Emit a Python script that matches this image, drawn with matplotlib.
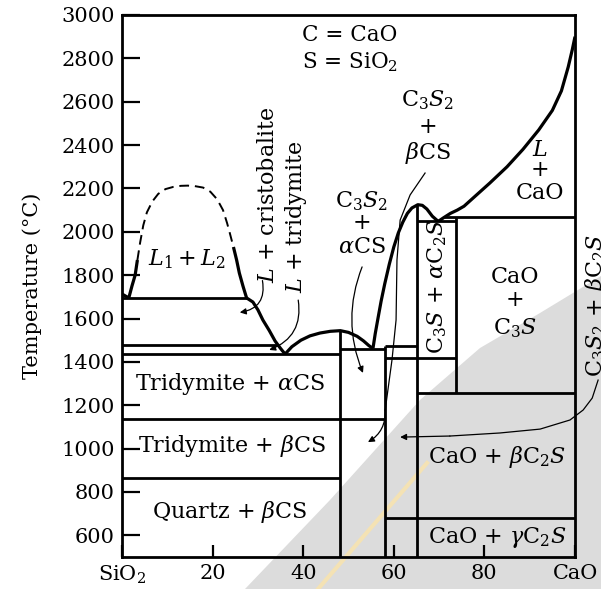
import matplotlib.pyplot as plt
from matplotlib.patches import Polygon
from matplotlib.lines import Line2D

plt.rcParams['font.family'] = ['DejaVu Serif']
plt.rcParams['mathtext.fontset'] = 'dejavuserif'

# compositions in wt% CaO, temperatures in deg C
xticks = [0, 20, 40, 60, 80, 100]
xticklabels = ['SiO$_2$', '20', '40', '60', '80', 'CaO']
yticks = list(range(600, 3001, 200))

# miscibility gap L1 + L2
dome_x = [1.5, 2.2, 2.9, 3.4, 4.0, 4.7, 5.5, 6.7, 8.0, 9.6, 11.3, 13.0, 14.5, 16.0,
          17.9, 19.5, 21.0, 22.3, 23.2, 23.8, 24.6, 25.3, 25.9, 26.7, 27.5]
dome_T = [1695, 1750, 1800, 1870, 1950, 2030, 2090, 2140, 2175, 2197, 2207, 2212, 2213, 2211,
          2204, 2185, 2150, 2100, 2040, 1994, 1930, 1870, 1810, 1750, 1695]

# liquidus branches
liq_sio2_x = [0, 1.5]
liq_sio2_T = [1713, 1695]
liq_trid_x = [27.5, 28.9, 30.0, 31.1, 32.5, 33.8, 35.0, 36.0]
liq_trid_T = [1695, 1676, 1640, 1593, 1545, 1496, 1462, 1436]
liq_cs_x = [36.0, 37.5, 39.5, 41.5, 43.7, 46.0, 48.2, 50.0, 51.9, 53.3, 54.5, 55.4]
liq_cs_T = [1436, 1470, 1500, 1520, 1533, 1541, 1544, 1536, 1518, 1497, 1475, 1462]
liq_c2s_x = [55.4, 55.9, 56.5, 57.2, 58.0, 59.0, 60.0, 61.0, 62.0, 63.0, 64.0, 65.3,
             66.3, 67.3, 68.5, 69.8]
liq_c2s_T = [1462, 1530, 1600, 1680, 1760, 1850, 1930, 1995, 2045, 2085, 2110, 2125,
             2122, 2105, 2072, 2048]
liq_cao_x = [69.8, 71.0, 72.5, 74.0, 75.5, 78.0, 81.2, 85.0, 88.5, 92.0, 95.0, 97.0,
             98.5, 99.4, 100]
liq_cao_T = [2048, 2065, 2085, 2100, 2118, 2165, 2225, 2300, 2380, 2470, 2560, 2650,
             2760, 2840, 2900]

# isotherms: temperature, from, to
iso_T = [1695, 1480, 1436, 1135, 865, 1460, 1475, 1420, 2050, 2070, 1255, 680]
iso_x0 = [0, 0, 0, 0, 0, 48.2, 58.0, 58.0, 65.2, 71.0, 65.2, 58.0]
iso_x1 = [27.5, 34.3, 48.2, 58.0, 48.2, 58.0, 65.2, 73.7, 73.7, 100, 100, 100]

# compounds: composition, lower and upper temperature
comp_x = [48.2, 58.0, 65.2, 73.7]
comp_T0 = [500, 500, 500, 1255]
comp_T1 = [1544, 1475, 2125, 2070]

fig = plt.figure(figsize=(6.01, 5.89), dpi=100)

def px(x, y):
    return (x / 601, 1 - y / 589)

# grey watermark
wm = [px(245, 589), px(330, 500), px(420, 400), px(480, 348), px(540, 313),
      px(601, 276), px(601, 589)]
fig.add_artist(Polygon(wm, closed=True, fc='#dcdcdc', ec='none', zorder=-2,
                       transform=fig.transFigure))
a, b = px(427, 463), px(318, 589)
fig.add_artist(Line2D([a[0], b[0]], [a[1], b[1]], color='#f4e2b4', lw=3,
                      zorder=-1, transform=fig.transFigure))

ax = fig.add_axes([122 / 601, 32 / 589, 453 / 601, 542 / 589])
ax.set_facecolor('none')
ax.set_xlim(0, 100)
ax.set_ylim(500, 3000)

k = dict(color='black', solid_capstyle='butt', solid_joinstyle='round')
ax.plot(dome_x[:4], dome_T[:4], lw=2.3, **k)
ax.plot(dome_x[-5:], dome_T[-5:], lw=2.3, **k)
ax.plot(dome_x[3:-4], dome_T[3:-4], lw=1.4, ls=(0, (5, 3)), color='black')

for xs, ts in [(liq_sio2_x, liq_sio2_T), (liq_trid_x, liq_trid_T), (liq_cs_x, liq_cs_T),
               (liq_c2s_x, liq_c2s_T), (liq_cao_x, liq_cao_T)]:
    ax.plot(xs, ts, lw=2.3, **k)

for t, x0, x1 in zip(iso_T, iso_x0, iso_x1):
    ax.plot([x0, x1], [t, t], lw=2.0, **k)
for x, t0, t1 in zip(comp_x, comp_T0, comp_T1):
    ax.plot([x, x], [t0, t1], lw=2.0, **k)

# leader lines
arr = dict(arrowstyle='-|>', lw=0.9, color='black', mutation_scale=9, shrinkA=0, shrinkB=0)
ax.annotate('', xy=(26.0, 1628), xytext=(31.0, 1775),
            arrowprops=dict(connectionstyle='arc3,rad=-0.5', **arr))
ax.annotate('', xy=(32.5, 1455), xytext=(38.9, 1685),
            arrowprops=dict(connectionstyle='arc3,rad=-0.4', **arr))
ax.annotate('', xy=(53.2, 1349), xytext=(53.0, 1838),
            arrowprops=dict(connectionstyle='arc3,rad=0.2', **arr))

bcs_x = [66.9, 63.6, 61.4, 60.7, 60.5, 59.6, 58.1]
bcs_T = [2271, 2170, 2054, 1870, 1593, 1409, 1178]
ax.plot(bcs_x, bcs_T, lw=0.9, color='black')
ax.annotate('', xy=(54.3, 1030), xytext=(bcs_x[-1], bcs_T[-1]),
            arrowprops=dict(connectionstyle='arc3,rad=-0.3', **arr))

bc2s_x = [105.1, 103.8, 101.8, 98.9, 92.3, 83.4, 72.4]
bc2s_T = [1316, 1233, 1178, 1132, 1090, 1072, 1058]
ax.plot(bc2s_x, bc2s_T, lw=0.9, color='black', clip_on=False)
ax.annotate('', xy=(61.4, 1053), xytext=(bc2s_x[-1], bc2s_T[-1]),
            arrowprops=dict(connectionstyle='arc3,rad=0', **arr))

fs = 16
ax.text(39.7, 2908, 'C = CaO', fontsize=15.5, va='center')
ax.text(39.7, 2783, 'S = SiO$_2$', fontsize=15.5, va='center')
ax.text(14.3, 1875, '$L_1 + L_2$', fontsize=fs, ha='center', va='center')
ax.text(32.2, 2170, '$L$ + cristobalite', fontsize=fs, ha='center', va='center', rotation=90)
ax.text(38.4, 2068, '$L$ + tridymite', fontsize=fs, ha='center', va='center', rotation=90)
for y, s in zip([2140, 2040, 1930], ['C$_3S_2$', '+', r'$\alpha$CS']):
    ax.text(53.0, y, s, fontsize=fs, ha='center', va='center')
for y, s in zip([2608, 2483, 2363], ['C$_3S_2$', '+', r'$\beta$CS']):
    ax.text(67.5, y, s, fontsize=fs, ha='center', va='center')
for y, s in zip([2377, 2285, 2179], ['$L$', '+', 'CaO']):
    ax.text(92.3, y, s, fontsize=fs, ha='center', va='center')
for y, s in zip([1791, 1685, 1556], ['CaO', '+', 'C$_3S$']):
    ax.text(86.8, y, s, fontsize=fs, ha='center', va='center')
ax.text(69.5, 1745, r'C$_3S$ + $\alpha$C$_2S$', fontsize=fs, ha='center', va='center', rotation=90)
ax.text(104.6, 1662, r'C$_3S_2$ + $\beta$C$_2S$', fontsize=fs, ha='center', va='center', rotation=90)
ax.text(23.8, 1298, r'Tridymite + $\alpha$CS', fontsize=fs, ha='center', va='center')
ax.text(24.3, 1012, r'Tridymite + $\beta$CS', fontsize=fs, ha='center', va='center')
ax.text(23.8, 708, r'Quartz + $\beta$CS', fontsize=fs, ha='center', va='center')
ax.text(82.8, 961, r'CaO + $\beta$C$_2S$', fontsize=fs, ha='center', va='center')
ax.text(82.8, 592, r'CaO + $\gamma$C$_2S$', fontsize=fs, ha='center', va='center')

ax.set_xticks(xticks)
ax.set_xticklabels(xticklabels)
ax.set_yticks(yticks)
ax.tick_params(axis='y', direction='in', length=13, width=1.6, labelsize=15, pad=5)
ax.tick_params(axis='x', direction='in', length=9, width=1.6, labelsize=15, pad=5)
for sp in ax.spines.values():
    sp.set_linewidth(2.0)
ax.set_ylabel('Temperature (°C)', fontsize=15, labelpad=14)

fig.savefig('out.png', dpi=100, facecolor='white')
